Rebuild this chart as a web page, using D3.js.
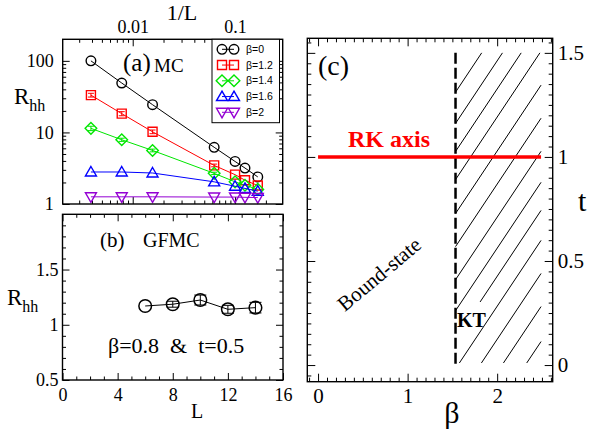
<!DOCTYPE html>
<html><head><meta charset="utf-8">
<script src="https://cdn.jsdelivr.net/npm/d3@7"></script>
<style>
html,body{margin:0;padding:0;background:#fff;}
svg{display:block;}
</style></head><body>
<svg id="chart" width="596" height="432"></svg>
<script>
// ---------- Panel (a): MC, R_hh vs 1/L ----------
const sizesL = [256, 128, 64, 16, 10, 8, 6];
const betaLabels = ["β=0", "β=1.2", "β=1.4", "β=1.6", "β=2"];
const rhhBeta0  = [100, 49, 24.4, 6.2, 3.93, 3.18, 2.39];
const rhhBeta12 = [33.2, 18.3, 10.2, 3.46, 2.57, 2.15, 1.81];
const rhhBeta14 = [11.4, 7.9, 5.6, 2.68, 2.04, 1.83, 1.6];
const rhhBeta16 = [2.8, 2.8, 2.71, 2.04, 1.77, 1.65, 1.51];
const rhhBeta2  = [1.26, 1.26, 1.26, 1.25, 1.25, 1.24, 1.23];
const errBeta12 = [2.0, 1.2, 0.6, 0.15, 0, 0, 0];
const errBeta14 = [0.8, 0.4, 0.25, 0.1, 0, 0, 0];
const seriesColors = ["#000000", "#ff0000", "#00e600", "#0000ff", "#9400d3"];
const seriesShapes = ["circle", "square", "diamond", "triUp", "triDown"];
const xTicksA = [0.01, 0.1];
const xTickLabelsA = ["0.01", "0.1"];
const xMinorA = [0.003,0.004,0.005,0.006,0.007,0.008,0.009,0.02,0.03,0.04,0.05,0.06,0.07,0.08,0.09,0.2];
const yTicksA = [1, 10, 100];
const yTickLabelsA = ["1", "10", "100"];
const yMinorA = [2,3,4,5,6,7,8,9,20,30,40,50,60,70,80,90];

// ---------- Panel (b): GFMC ----------
const gfmcL = [6, 8, 10, 12, 14];
const gfmcRhh = [1.17, 1.186, 1.224, 1.14, 1.155];
const gfmcErr = [0, 0.027, 0.045, 0.036, 0.048];
const xTicksB = [0, 4, 8, 12, 16];
const xTickLabelsB = ["0", "4", "8", "12", "16"];
const xMinorB = [1,2,3,5,6,7,9,10,11,13,14,15];
const yTicksB = [0.5, 1, 1.5];
const yTickLabelsB = ["0.5", "1", "1.5"];
const yMinorB = [0.6,0.7,0.8,0.9,1.1,1.2,1.3,1.4,1.6,1.7,1.8,1.9];

// ---------- Panel (c): phase diagram ----------
const ktBeta = 1.535;
const ktT = [0, 1.5];
const rkBeta = [0, 2.49];
const rkT = 1;
const hatchSegments = [
  [1.535, 1.311, 1.827, 1.5],
  [1.535, 1.161, 2.059, 1.5],
  [1.535, 1.026, 2.268, 1.5],
  [1.535, 0.891, 2.477, 1.5],
  [1.535, 0.728, 2.49, 1.345],
  [1.535, 0.569, 2.49, 1.186],
  [1.535, 0.410, 2.49, 1.027],
  [1.535, 0.261, 2.49, 0.878],
  [1.809, 0.303, 2.49, 0.743],
  [1.578, 0.01, 2.49, 0.599],
  [1.824, 0.01, 2.49, 0.440],
  [2.070, 0.01, 2.49, 0.281],
  [2.330, 0.01, 2.49, 0.113]
];
const xTicksC = [0, 1, 2];
const xTickLabelsC = ["0", "1", "2"];
const yTicksC = [0, 0.5, 1, 1.5];
const yTickLabelsC = ["0", "0.5", "1", "1.5"];

const SERIF = "'Liberation Serif','Times New Roman',serif";
const SANS = "'Liberation Sans',Arial,sans-serif";
const svg = d3.select("#chart");
svg.append("rect").attr("width", 596).attr("height", 432).attr("fill", "#fff");

function drawAxis(orient, scale, at, values, len, labels, fs, pad) {
  const f = {left: d3.axisLeft, right: d3.axisRight, top: d3.axisTop, bottom: d3.axisBottom}[orient];
  const gen = f(scale).tickValues(values).tickSizeInner(-len).tickSizeOuter(0)
    .tickPadding(pad || 3)
    .tickFormat(labels ? ((d, i) => labels[i]) : (() => ""));
  const tr = (orient === "left" || orient === "right") ? `translate(${at},0)` : `translate(0,${at})`;
  const g = svg.append("g").attr("transform", tr).call(gen);
  g.select(".domain").remove();
  g.attr("font-family", SERIF).attr("font-size", fs || 17);
  g.selectAll(".tick line").attr("stroke", "#000").attr("stroke-width", 1);
  g.selectAll(".tick text").attr("fill", "#000");
  return g;
}

function symbolPath(shape) {
  switch (shape) {
    case "circle": return "M4.8,0A4.8,4.8 0 1,1 -4.8,0A4.8,4.8 0 1,1 4.8,0Z";
    case "square": return "M-4.5,-4.5H4.5V4.5H-4.5Z";
    case "diamond": return "M0,-5.8L5.8,0L0,5.8L-5.8,0Z";
    case "triUp": return "M0,-5.5L5.5,4L-5.5,4Z";
    case "triDown": return "M0,5.5L5.5,-4L-5.5,-4Z";
  }
}

// ===== Panel (a) =====
const xA = d3.scaleLog().domain([0.00207, 0.292]).range([62.7, 282.7]);
const yA = d3.scaleLog().domain([1, 200]).range([204, 39.3]);
drawAxis("top", xA, 39.3, xTicksA, 7, xTickLabelsA, 18, 6);
drawAxis("top", xA, 39.3, xMinorA, 3.5);
drawAxis("bottom", xA, 204, xTicksA, 7);
drawAxis("bottom", xA, 204, xMinorA, 3.5);
drawAxis("left", yA, 62.7, yTicksA, 7, yTickLabelsA, 18, 9);
drawAxis("left", yA, 62.7, yMinorA, 3.5);
drawAxis("right", yA, 282.7, yTicksA, 7);
drawAxis("right", yA, 282.7, yMinorA, 3.5);

const allSeries = [rhhBeta0, rhhBeta12, rhhBeta14, rhhBeta16, rhhBeta2];
const allErr = [null, errBeta12, errBeta14, null, null];
const lineA = d3.line().x(d => xA(1 / d[0])).y(d => yA(d[1]));
allSeries.forEach((vals, si) => {
  const pts = sizesL.map((L, i) => [L, vals[i]]);
  const g = svg.append("g");
  g.append("path").attr("d", lineA(pts)).attr("fill", "none")
    .attr("stroke", seriesColors[si]).attr("stroke-width", 1);
  if (allErr[si]) {
    pts.forEach((p, i) => {
      const e = allErr[si][i];
      if (!e) return;
      const cx = xA(1 / p[0]);
      const y1 = yA(p[1] + e), y2 = yA(p[1] - e);
      g.append("path").attr("d", `M${cx},${y1}V${y2}M${cx - 3},${y1}H${cx + 3}M${cx - 3},${y2}H${cx + 3}`)
        .attr("stroke", seriesColors[si]).attr("stroke-width", 1).attr("fill", "none");
    });
  }
  g.selectAll(".m").data(pts).enter().append("path")
    .attr("transform", d => `translate(${xA(1 / d[0])},${yA(d[1])})`)
    .attr("d", symbolPath(seriesShapes[si]))
    .attr("fill", "none").attr("stroke", seriesColors[si]).attr("stroke-width", 1.4);
});

svg.append("rect").attr("x", 62.7).attr("y", 39.3).attr("width", 220).attr("height", 164.7)
  .attr("fill", "none").attr("stroke", "#000").attr("stroke-width", 1.4);

// legend
const leg = svg.append("g");
leg.append("rect").attr("x", 212).attr("y", 39.3).attr("width", 67.5).attr("height", 83.4)
  .attr("fill", "#fff").attr("stroke", "#000").attr("stroke-width", 1);
betaLabels.forEach((lab, i) => {
  const yy = 49.3 + i * 15.75;
  leg.append("line").attr("x1", 222).attr("x2", 234).attr("y1", yy).attr("y2", yy)
    .attr("stroke", seriesColors[i]).attr("stroke-width", 1);
  [222, 234].forEach(cx => leg.append("path").attr("transform", `translate(${cx},${yy})`)
    .attr("d", symbolPath(seriesShapes[i])).attr("fill", "none")
    .attr("stroke", seriesColors[i]).attr("stroke-width", 1.4));
  leg.append("text").attr("x", 246).attr("y", yy).attr("dy", "0.35em")
    .attr("font-family", SANS).attr("font-size", 10.5).text(lab);
});

svg.append("text").attr("x", 123).attr("y", 71).attr("font-family", SERIF).attr("font-size", 25).text("(a)");
svg.append("text").attr("x", 154).attr("y", 72).attr("font-family", SERIF).attr("font-size", 19).text("MC");
svg.append("text").attr("x", 182).attr("y", 19.5).attr("text-anchor", "middle").attr("font-family", SERIF).attr("font-size", 22).text("1/L");
function rhhLabel(x, y) {
  const t = svg.append("text").attr("x", x).attr("y", y).attr("font-family", SERIF).attr("font-size", 23);
  t.append("tspan").text("R");
  t.append("tspan").attr("font-size", 16).attr("dy", 7).text("hh");
}
rhhLabel(14, 104);
rhhLabel(7, 305);

// ===== Panel (b) =====
const xB = d3.scaleLinear().domain([0, 16]).range([62.5, 283]);
const yB = d3.scaleLinear().domain([0.5, 2]).range([380, 214.3]);
drawAxis("bottom", xB, 380, xTicksB, 7, xTickLabelsB, 18, 8);
drawAxis("bottom", xB, 380, xMinorB, 3.5);
drawAxis("top", xB, 214.3, xTicksB, 7);
drawAxis("top", xB, 214.3, xMinorB, 3.5);
drawAxis("left", yB, 62.5, yTicksB, 7, yTickLabelsB, 18, 4);
drawAxis("left", yB, 62.5, yMinorB, 3.5);
drawAxis("right", yB, 283, yTicksB, 7);
drawAxis("right", yB, 283, yMinorB, 3.5);

const ptsB = gfmcL.map((L, i) => [L, gfmcRhh[i], gfmcErr[i]]);
svg.append("path").attr("d", d3.line().x(d => xB(d[0])).y(d => yB(d[1]))(ptsB))
  .attr("fill", "none").attr("stroke", "#000").attr("stroke-width", 1);
ptsB.forEach(p => {
  if (!p[2]) return;
  const cx = xB(p[0]), y1 = yB(p[1] + p[2]), y2 = yB(p[1] - p[2]);
  svg.append("path").attr("d", `M${cx},${y1}V${y2}M${cx - 6},${y1}H${cx + 6}M${cx - 6},${y2}H${cx + 6}`)
    .attr("stroke", "#000").attr("stroke-width", 1).attr("fill", "none");
});
svg.selectAll(".mb").data(ptsB).enter().append("circle")
  .attr("cx", d => xB(d[0])).attr("cy", d => yB(d[1])).attr("r", 6.3)
  .attr("fill", "none").attr("stroke", "#000").attr("stroke-width", 1.5);
svg.append("rect").attr("x", 62.5).attr("y", 214.3).attr("width", 220.5).attr("height", 165.7)
  .attr("fill", "none").attr("stroke", "#000").attr("stroke-width", 1.4);
svg.append("text").attr("x", 100).attr("y", 247).attr("font-family", SERIF).attr("font-size", 21).text("(b)");
svg.append("text").attr("x", 143).attr("y", 247).attr("font-family", SERIF).attr("font-size", 20).text("GFMC");
svg.append("text").attr("x", 108).attr("y", 353).attr("font-family", SERIF).attr("font-size", 22)
  .attr("xml:space", "preserve").style("white-space", "pre").text("β=0.8  &  t=0.5");
svg.append("text").attr("x", 197).attr("y", 418).attr("text-anchor", "middle").attr("font-family", SERIF).attr("font-size", 20).text("L");

// ===== Panel (c) =====
const xC = d3.scaleLinear().domain([-0.12, 2.62]).range([307.3, 552.7]);
const yC = d3.scaleLinear().domain([-0.08, 1.57]).range([381.7, 38.3]);
const xMinorC = d3.range(-1, 27).map(i => i / 10).filter(v => Math.abs(v - Math.round(v)) > 1e-6);
const yMinorC = d3.range(-1, 32).map(i => i / 20).filter(v => Math.abs(v * 2 - Math.round(v * 2)) > 1e-6);
drawAxis("bottom", xC, 381.7, xTicksC, 8, xTickLabelsC, 21, 6);
drawAxis("bottom", xC, 381.7, xMinorC, 4);
drawAxis("top", xC, 38.3, xTicksC, 8);
drawAxis("top", xC, 38.3, xMinorC, 4);
drawAxis("right", yC, 552.7, yTicksC, 8, yTickLabelsC, 21, 5);
drawAxis("right", yC, 552.7, yMinorC, 4);
drawAxis("left", yC, 307.3, yTicksC, 8);
drawAxis("left", yC, 307.3, yMinorC, 4);

svg.append("g").selectAll("line").data(hatchSegments).enter().append("line")
  .attr("x1", d => xC(d[0])).attr("y1", d => yC(d[1]))
  .attr("x2", d => xC(d[2])).attr("y2", d => yC(d[3]))
  .attr("stroke", "#000").attr("stroke-width", 1);
svg.append("line").attr("x1", xC(ktBeta)).attr("x2", xC(ktBeta))
  .attr("y1", yC(ktT[1])).attr("y2", yC(ktT[0]))
  .attr("stroke", "#000").attr("stroke-width", 2.5).attr("stroke-dasharray", "11,4");
svg.append("line").attr("x1", xC(rkBeta[0])).attr("x2", xC(rkBeta[1]))
  .attr("y1", yC(rkT)).attr("y2", yC(rkT))
  .attr("stroke", "#ff0000").attr("stroke-width", 3.5);
svg.append("rect").attr("x", 307.3).attr("y", 38.3).attr("width", 245.4).attr("height", 343.4)
  .attr("fill", "none").attr("stroke", "#000").attr("stroke-width", 1.4);

svg.append("text").attr("x", 318).attr("y", 75).attr("font-family", SERIF).attr("font-size", 28).text("(c)");
svg.append("text").attr("x", 348).attr("y", 146.5).attr("font-family", SERIF).attr("font-size", 24)
  .attr("font-weight", "bold").attr("fill", "#ff0000").text("RK axis");
svg.append("text").attr("x", 578).attr("y", 211).attr("font-family", SERIF).attr("font-size", 30).text("t");
svg.append("text").attr("x", 452).attr("y", 423).attr("text-anchor", "middle").attr("font-family", SERIF).attr("font-size", 30).text("β");
svg.append("text").attr("transform", "translate(379,274) rotate(-40)").attr("text-anchor", "middle")
  .attr("dy", "0.35em").attr("font-family", SERIF).attr("font-size", 21).text("Bound-state");
svg.append("text").attr("x", 457).attr("y", 327).attr("font-family", SERIF).attr("font-size", 20)
  .attr("font-weight", "bold").text("KT");
</script>
</body></html>
